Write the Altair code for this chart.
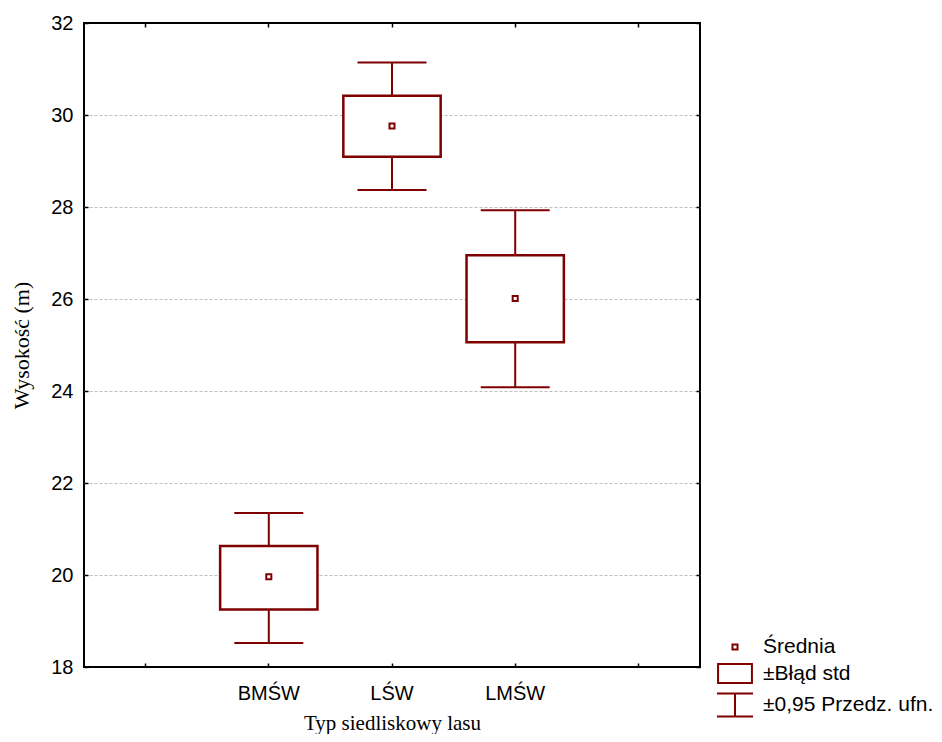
import altair as alt
import pandas as pd

# ---- data ----
categories = ["BMŚW", "LŚW", "LMŚW"]
means = [19.96, 29.76, 26.01]
se_low = [19.25, 29.09, 25.06]
se_high = [20.63, 30.42, 26.95]
ci_low = [18.52, 28.37, 24.08]
ci_high = [21.35, 31.14, 27.93]
y_ticks = [18, 20, 22, 24, 26, 28, 30, 32]
x_domain = [" ", "BMŚW", "LŚW", "LMŚW", "  "]
legend_labels = ["Średnia", "±Błąd std", "±0,95 Przedz. ufn."]

RED = "#7f0000"
SANS = "Liberation Sans"
SERIF = "Liberation Serif"

legend_paths = [
    "M-0.18,-0.18H0.18V0.18H-0.18Z",
    "M-1.21,-0.68H1.21V0.68H-1.21Z",
    "M-1.29,-0.82H1.29M0,-0.82V0.82M-1.29,0.82H1.29",
]

df = pd.DataFrame({
    "cat": categories,
    "mean": means,
    "se_low": se_low,
    "se_high": se_high,
    "ci_low": ci_low,
    "ci_high": ci_high,
    "lbl": ["Średnia"] * len(categories),
})

xscale = alt.Scale(domain=x_domain, paddingInner=0, paddingOuter=0)
yscale = alt.Scale(domain=[18, 32], nice=False, zero=False)

TICK = dict(tickSize=4, tickColor="black", tickWidth=1.5, offset=-4, domain=False)

xaxis = alt.Axis(
    labelFont=SANS, labelFontSize=20, labelColor="black", labelAngle=0,
    labelPadding=16, grid=False,
    titleFont=SERIF, titleFontSize=21, titleFontWeight="normal", titleColor="black",
    titleY=66, titleBaseline="alphabetic", **TICK,
)
yaxis = alt.Axis(
    values=y_ticks, labelFont=SANS, labelFontSize=20, labelColor="black",
    labelPadding=11,
    grid=True, gridColor="#bdbdbd", gridDash=[3, 2], gridWidth=1,
    gridOpacity={"condition": {"test": "datum.value == 18 || datum.value == 32", "value": 0}, "value": 1},
    titleFont=SERIF, titleFontSize=22, titleFontWeight="normal", titleColor="black",
    titleX=-60, titleBaseline="alphabetic", **TICK,
)
xaxis_top = alt.Axis(orient="top", labels=False, title=None, grid=False, **TICK)
yaxis_right = alt.Axis(orient="right", values=y_ticks, labels=False, title=None,
                       grid=False, **TICK)

X_TITLE = "Typ siedliskowy lasu"
Y_TITLE = "Wysokość (m)"

def X(axis):
    return alt.X("cat:N", scale=xscale, axis=axis, title=X_TITLE)

def Y(field, axis):
    return alt.Y(f"{field}:Q", scale=yscale, axis=axis, title=Y_TITLE)

base = alt.Chart(df)

whisker = base.mark_rule(color=RED, strokeWidth=2).encode(
    x=X(xaxis), y=Y("ci_low", yaxis), y2="ci_high:Q"
)
cap_low = base.mark_tick(color=RED, size=69, thickness=2, opacity=1).encode(
    x=X(None), y=Y("ci_low", None)
)
cap_high = base.mark_tick(color=RED, size=69, thickness=2, opacity=1).encode(
    x=X(xaxis_top), y=Y("ci_high", yaxis_right)
)
box = base.mark_bar(
    fill="white", stroke=RED, strokeWidth=2.5, width=alt.RelativeBandSize(0.79)
).encode(x=X(None), y=Y("se_low", None), y2="se_high:Q")

mean_pt = base.mark_point(
    filled=False, size=784, strokeWidth=2, opacity=1, color=RED
).encode(
    x=X(None),
    y=Y("mean", None),
    shape=alt.Shape(
        "lbl:N",
        scale=alt.Scale(domain=legend_labels, range=legend_paths),
        legend=alt.Legend(
            title=None, orient="none", legendX=636, legendY=609,
            symbolSize=784, symbolStrokeWidth=2, symbolStrokeColor=RED,
            symbolFillColor="transparent", symbolOpacity=1,
            labelFont=SANS, labelFontSize=21, labelColor="black",
            labelOffset=13, rowPadding=1.5, labelLimit=400,
        ),
    ),
)

chart = (
    alt.layer(whisker, cap_low, cap_high, box, mean_pt)
    .resolve_axis(x="independent", y="independent")
    .properties(
        width=616, height=644,
        background="white",
        autosize=alt.AutoSizeParams(type="none"),
        padding={"left": 76, "top": 15, "right": 234, "bottom": 67},
    )
    .configure_view(stroke="black", strokeWidth=2)
)

chart.save("out.html", embed_options={"renderer": "svg", "actions": False})
